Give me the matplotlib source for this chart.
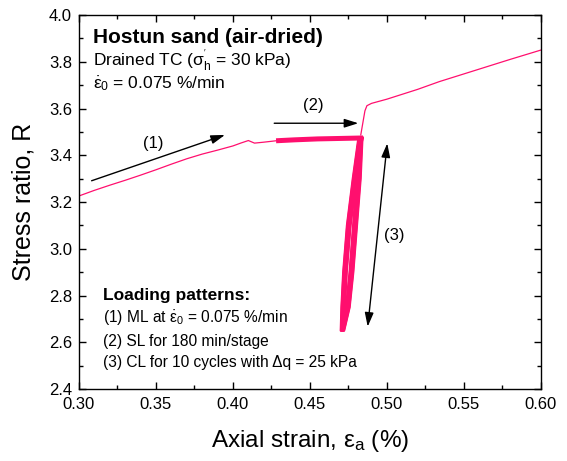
import matplotlib
matplotlib.use('Agg')
import matplotlib.pyplot as plt
import numpy as np

plt.rcParams['font.family'] = ['Liberation Sans', 'DejaVu Sans']
plt.rcParams['mathtext.fontset'] = 'custom'
plt.rcParams['mathtext.rm'] = 'Liberation Sans'
plt.rcParams['mathtext.it'] = 'Liberation Sans:italic'

# monotonic loading (1)
ml_strain = [0.300, 0.310, 0.320, 0.330, 0.340, 0.350, 0.360, 0.370, 0.380,
             0.390, 0.400, 0.405, 0.410, 0.414, 0.420, 0.428]
ml_R = [3.226, 3.250, 3.272, 3.293, 3.315, 3.338, 3.362, 3.385, 3.405,
        3.422, 3.440, 3.452, 3.463, 3.452, 3.456, 3.462]

# sustained loading band (2)
sl_strain = [0.428, 0.440, 0.455, 0.470, 0.4845]
sl_R = [3.462, 3.466, 3.470, 3.472, 3.474]

# cyclic loading (3): strain at top / bottom of each cycle
cl_top = [0.4815, 0.4818, 0.4821, 0.4824, 0.4827, 0.4830, 0.4833, 0.4836, 0.4838, 0.4841]
cl_bot = [0.4700, 0.4702, 0.4705, 0.4707, 0.4710, 0.4712, 0.4715, 0.4717, 0.4720, 0.4722]
cl_levels = [3.475, 3.30, 3.10, 2.90, 2.75, 2.65]
unload_frac = [1.0, 0.90, 0.70, 0.50, 0.30, 0.0]
reload_frac = [1.0, 0.68, 0.35, 0.14, 0.04, 0.0]

# after cycles, loading resumed
post_strain = [0.4830, 0.4857, 0.4870, 0.490, 0.500, 0.520, 0.534, 0.550, 0.580, 0.600]
post_R = [3.487, 3.590, 3.612, 3.622, 3.640, 3.682, 3.715, 3.748, 3.810, 3.850]

col = '#ff0f6e'

fig = plt.figure(figsize=(5.67, 4.61), dpi=100)
ax = fig.add_axes([0.1393, 0.156, 0.8147, 0.8115])

ax.plot(ml_strain, ml_R, color=col, lw=0.9)
ax.plot(sl_strain, sl_R, color=col, lw=3.6, solid_capstyle='butt')
for t, b in zip(cl_top, cl_bot):
    xs_u = [b + f * (t - b) for f in unload_frac]
    xs_r = [b + f * (t - b) for f in reload_frac]
    ax.plot(xs_u + xs_r[::-1], cl_levels + cl_levels[::-1], color=col, lw=1.6)
ax.plot(post_strain, post_R, color=col, lw=0.9)

# arrows
arw = dict(arrowstyle='-|>,head_length=0.7,head_width=0.22', color='black',
           lw=1.0, mutation_scale=12, shrinkA=0, shrinkB=0)
ax.annotate('', xy=(0.3948, 3.487), xytext=(0.3082, 3.291), arrowprops=arw)
ax.text(0.348, 3.452, '(1)', fontsize=12, ha='center', va='center')
ax.annotate('', xy=(0.4814, 3.537), xytext=(0.4268, 3.537), arrowprops=arw)
ax.text(0.452, 3.615, '(2)', fontsize=12, ha='center', va='center')
ax.annotate('', xy=(0.5002, 3.451), xytext=(0.4875, 2.667),
            arrowprops=dict(arrowstyle='<|-|>,head_length=0.7,head_width=0.22',
                            color='black', lw=1.0, mutation_scale=12,
                            shrinkA=0, shrinkB=0))
ax.text(0.505, 3.059, '(3)', fontsize=12, ha='center', va='center')

# texts
tr = ax.transAxes
ax.text(0.030, 0.941, 'Hostun sand (air-dried)', transform=tr, fontsize=15,
        fontweight='bold', va='center')
ax.text(0.030, 0.880, r"Drained TC ($\mathrm{\sigma}_{\rm h}^{'}$ = 30 kPa)", transform=tr,
        fontsize=12.5, va='center')
ax.text(0.030, 0.818, r'$\dot{\mathrm{\varepsilon}}_0$ = 0.075 %/min', transform=tr,
        fontsize=12.5, va='center')
ax.text(0.052, 0.251, 'Loading patterns:', transform=tr, fontsize=12.5,
        fontweight='bold', va='center')
ax.text(0.052, 0.190, r'(1) ML at $\dot{\mathrm{\varepsilon}}_0$ = 0.075 %/min', transform=tr,
        fontsize=11.2, va='center')
ax.text(0.052, 0.126, '(2) SL for 180 min/stage', transform=tr, fontsize=11.2, va='center')
ax.text(0.052, 0.070, '(3) CL for 10 cycles with \u0394q = 25 kPa', transform=tr,
        fontsize=11.2, va='center')

ax.set_xlim(0.30, 0.60)
ax.set_ylim(2.4, 4.0)
ax.set_xticks(np.arange(0.30, 0.601, 0.05))
ax.set_xticks(np.arange(0.30, 0.601, 0.025), minor=True)
ax.set_yticks(np.arange(2.4, 4.01, 0.2))
ax.set_yticks(np.arange(2.4, 4.01, 0.1), minor=True)
ax.xaxis.set_major_formatter(matplotlib.ticker.FormatStrFormatter('%.2f'))
ax.yaxis.set_major_formatter(matplotlib.ticker.FormatStrFormatter('%.1f'))
ax.tick_params(which='both', direction='in', top=True, right=True, labelsize=12)
ax.tick_params(which='major', length=5, width=1)
ax.tick_params(which='minor', length=3, width=1)
ax.tick_params(axis='x', pad=6)
ax.tick_params(axis='y', pad=5)
for s in ax.spines.values():
    s.set_linewidth(1.0)

ax.set_xlabel(r'Axial strain, $\mathrm{\varepsilon}_{\rm a}$ (%)', fontsize=17.5, labelpad=11)
ax.set_ylabel('Stress ratio, R', fontsize=18, labelpad=10)

plt.savefig('out.png')
